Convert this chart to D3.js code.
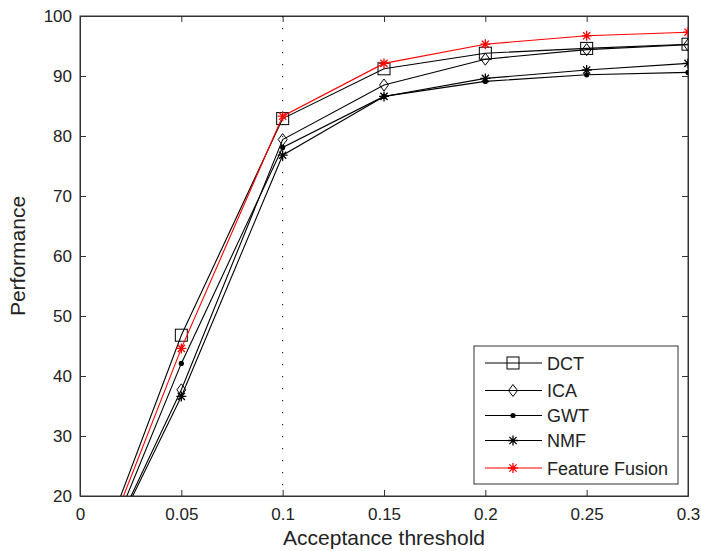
<!DOCTYPE html>
<html>
<head>
<meta charset="utf-8">
<script src="https://cdn.jsdelivr.net/npm/d3@7"></script>
<style>
  html, body { margin: 0; padding: 0; background: #fff; }
  svg { display: block; }
  text { font-family: "Liberation Sans", Arial, sans-serif; fill: #222; }
</style>
</head>
<body>
<svg id="chart" width="701" height="551"></svg>
<script>
// ---- data ----
const thresholds = [0, 0.05, 0.1, 0.15, 0.2, 0.25, 0.3];
const dct    = [2.0, 46.8, 82.9, 91.2, 93.8, 94.6, 95.3];
const ica    = [2.0, 37.7, 79.4, 88.5, 92.8, 94.4, 95.2];
const gwt    = [1.0, 42.1, 78.1, 86.6, 89.1, 90.2, 90.6];
const nmf    = [2.0, 36.6, 76.8, 86.6, 89.6, 91.0, 92.1];
const fusion = [1.5, 44.6, 83.3, 92.1, 95.3, 96.7, 97.3];
const seriesNames = ["DCT", "ICA", "GWT", "NMF", "Feature Fusion"];
const xTicks = [0, 0.05, 0.1, 0.15, 0.2, 0.25, 0.3];
const xTickLabels = ["0", "0.05", "0.1", "0.15", "0.2", "0.25", "0.3"];
const yTicks = [20, 30, 40, 50, 60, 70, 80, 90, 100];
const xLabel = "Acceptance threshold";
const yLabel = "Performance";
const markerLine = 0.1;

const series = [
  { name: seriesNames[0], values: dct,    color: "#000", marker: "square" },
  { name: seriesNames[1], values: ica,    color: "#000", marker: "diamond" },
  { name: seriesNames[2], values: gwt,    color: "#000", marker: "dot" },
  { name: seriesNames[3], values: nmf,    color: "#000", marker: "star" },
  { name: seriesNames[4], values: fusion, color: "#ff0000", marker: "star" }
];

// ---- layout ----
const L = 80, R = 688, T = 16, B = 496;
const svg = d3.select("#chart");
const x = d3.scaleLinear().domain([0, 0.3]).range([L, R]);
const y = d3.scaleLinear().domain([20, 100]).range([B, T]);
const axisColor = "#333";

svg.append("defs").append("clipPath").attr("id", "clip")
  .append("rect").attr("x", L).attr("y", T).attr("width", R - L).attr("height", B - T);

// plot frame
svg.append("rect").attr("x", L).attr("y", T).attr("width", R - L).attr("height", B - T)
  .attr("fill", "#fff").attr("stroke", axisColor).attr("stroke-width", 1);

// axes with inward ticks
const tickLen = 6;
const xb = svg.append("g").attr("transform", `translate(0,${B})`)
  .call(d3.axisBottom(x).tickValues(xTicks).tickFormat((d, i) => xTickLabels[i]).tickSizeInner(-tickLen).tickSizeOuter(0).tickPadding(12));
const xt = svg.append("g").attr("transform", `translate(0,${T})`)
  .call(d3.axisTop(x).tickValues(xTicks).tickFormat("").tickSizeInner(-tickLen).tickSizeOuter(0));
const yl = svg.append("g").attr("transform", `translate(${L},0)`)
  .call(d3.axisLeft(y).tickValues(yTicks).tickFormat(d3.format("d")).tickSizeInner(-tickLen).tickSizeOuter(0).tickPadding(8));
const yr = svg.append("g").attr("transform", `translate(${R},0)`)
  .call(d3.axisRight(y).tickValues(yTicks).tickFormat("").tickSizeInner(-tickLen).tickSizeOuter(0));
[xb, xt, yl, yr].forEach(g => {
  g.select(".domain").attr("stroke", axisColor).attr("stroke-width", 1);
  g.selectAll(".tick line").attr("stroke", axisColor);
  g.selectAll(".tick text").style("font-family", '"Liberation Sans", Arial, sans-serif')
    .style("font-size", "17px").attr("fill", "#222");
});

// dotted vertical line
svg.append("line")
  .attr("x1", x(markerLine)).attr("x2", x(markerLine))
  .attr("y1", T).attr("y2", B)
  .attr("stroke", "#000").attr("stroke-width", 1).attr("stroke-dasharray", "1.2,10.8");

// marker drawing
function drawMarker(g, type, cx, cy, color) {
  if (type === "square") {
    g.append("rect").attr("x", cx - 6).attr("y", cy - 6).attr("width", 12).attr("height", 12)
      .attr("fill", "none").attr("stroke", color).attr("stroke-width", 1);
  } else if (type === "diamond") {
    g.append("path").attr("d", `M${cx},${cy - 6}L${cx + 4.5},${cy}L${cx},${cy + 6}L${cx - 4.5},${cy}Z`)
      .attr("fill", "none").attr("stroke", color).attr("stroke-width", 1);
  } else if (type === "dot") {
    g.append("circle").attr("cx", cx).attr("cy", cy).attr("r", 2.6).attr("fill", color);
  } else if (type === "star") {
    const s = 5, d = 3.6;
    g.append("path")
      .attr("d", `M${cx - s},${cy}L${cx + s},${cy}M${cx},${cy - s}L${cx},${cy + s}` +
                 `M${cx - d},${cy - d}L${cx + d},${cy + d}M${cx - d},${cy + d}L${cx + d},${cy - d}`)
      .attr("stroke", color).attr("stroke-width", 1.3).attr("fill", "none");
  }
}

// series
const plot = svg.append("g").attr("clip-path", "url(#clip)");
const line = d3.line().x(d => x(d[0])).y(d => y(d[1]));
series.forEach(s => {
  const pts = thresholds.map((t, i) => [t, s.values[i]]);
  plot.append("path").attr("d", line(pts)).attr("fill", "none")
    .attr("stroke", s.color).attr("stroke-width", 1.1);
  const mg = plot.append("g");
  pts.forEach(p => drawMarker(mg, s.marker, x(p[0]), y(p[1]), s.color));
});

// axis labels
svg.append("text").attr("x", (L + R) / 2).attr("y", 545).attr("text-anchor", "middle")
  .style("font-size", "21px").text(xLabel);
svg.append("text").attr("transform", `translate(25,${(T + B) / 2}) rotate(-90)`)
  .attr("text-anchor", "middle").style("font-size", "21px").text(yLabel);

// legend
const lg = svg.append("g");
lg.append("rect").attr("x", 474).attr("y", 346).attr("width", 204).attr("height", 138)
  .attr("fill", "#fff").attr("stroke", axisColor).attr("stroke-width", 1);
const legendY = [363, 390.5, 415.5, 440.5, 468];
series.forEach((s, i) => {
  const ly = legendY[i];
  lg.append("line").attr("x1", 485).attr("x2", 542).attr("y1", ly).attr("y2", ly)
    .attr("stroke", s.color).attr("stroke-width", 1.1);
  drawMarker(lg, s.marker, 513, ly, s.color);
  lg.append("text").attr("x", 547).attr("y", ly + 6.5).style("font-size", "18px").text(s.name);
});
</script>
</body>
</html>
